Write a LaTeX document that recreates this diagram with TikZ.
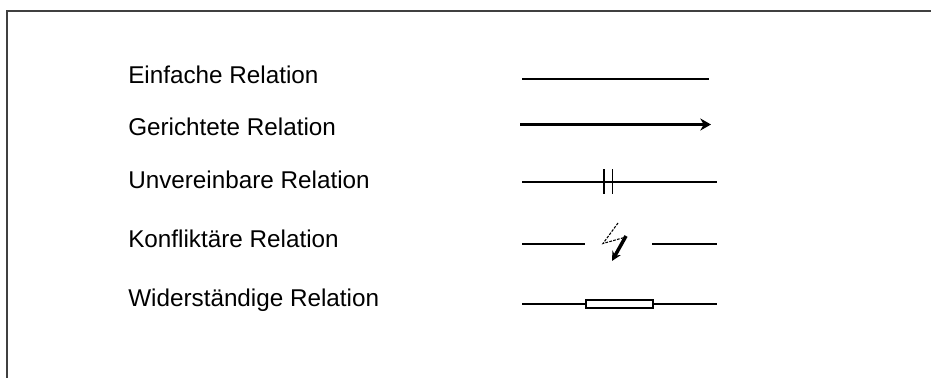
\documentclass[tikz,border=0pt]{standalone}
\usepackage{fontspec}
\setmainfont{Liberation Sans}
\usetikzlibrary{arrows.meta}
\begin{document}
\begin{tikzpicture}[x=0.75pt,y=-0.75pt,
  relname/.style={anchor=base west, inner sep=0pt, font=\fontsize{18.2}{21}\selectfont},
  relline/.style={line width=1.2pt}]
\useasboundingbox (0,0) rectangle (931,378);
% frame
\draw[line width=1.5pt, black!75] (7,378) -- (7,11) -- (931,11);
% names
\node[relname] (einfach) at (128,83.3) {Einfache Relation};
\node[relname] (gerichtet) at (128,135.3) {Gerichtete Relation};
\node[relname] (unvereinbar) at (128,188.3) {Unvereinbare Relation};
\node[relname] (konflikt) at (128,247.7) {Konfliktäre Relation};
\node[relname] (widerstand) at (128,306) {Widerständige Relation};
% einfache
\coordinate (e1) at (522,79);
\coordinate (e2) at (709,79);
\draw[relline] (e1) -- (e2);
% gerichtete
\coordinate (g1) at (520,124.5);
\coordinate (g2) at (711,124.5);
\draw[line width=2.4pt, -{Stealth[length=8pt,width=9pt,inset=2.5pt]}] (g1) -- (g2);
% unvereinbare
\coordinate (u1) at (522,182);
\coordinate (u2) at (717,182);
\draw[relline] (u1) -- (u2);
\draw[relline] (604,169) -- (604,194);
\draw[relline] (612.5,169) -- (612.5,194);
% konfliktaere
\coordinate (k1) at (522,244);
\coordinate (k2) at (585,244);
\coordinate (k3) at (652,244);
\coordinate (k4) at (717,244);
\draw[relline] (k1) -- (k2);
\draw[relline] (k3) -- (k4);
\draw[line width=0.8pt, dash pattern=on 2pt off 1pt] (618,223) -- (603,243.5) -- (626,237);
\draw[line width=2.6pt, -{Stealth[length=7pt,width=7pt]}] (626,236) -- (612,261);
% widerstaendige
\coordinate (w1) at (522,304);
\coordinate (w2) at (717,304);
\draw[relline] (w1) -- (586,304);
\draw[relline] (653,304) -- (w2);
\draw[relline] (586,300) rectangle (653,308);
\end{tikzpicture}
\end{document}
